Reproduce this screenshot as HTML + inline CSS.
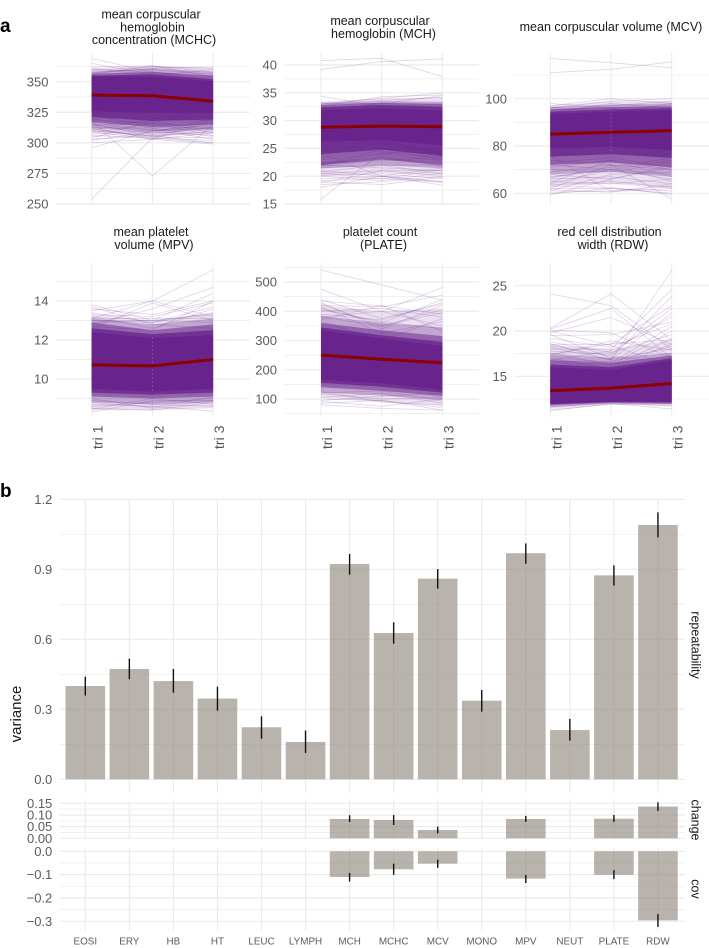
<!DOCTYPE html>
<html lang="en">
<head>
<meta charset="utf-8">
<title>Blood trait trajectories and variance components</title>
<style>
html,body{margin:0;padding:0;background:#fff;}
body{width:709px;height:948px;overflow:hidden;}
svg{display:block;font-family:"Liberation Sans",Arial,sans-serif;}
.title{font-size:12.5px;fill:#1a1a1a;text-anchor:middle;}
.tick{font-size:13px;fill:#5c5c5c;text-anchor:end;}
.tri{font-size:14.2px;fill:#555;text-anchor:end;}
.xcat{font-size:9.9px;fill:#5c5c5c;text-anchor:middle;}
.strip{font-size:12.5px;fill:#1a1a1a;text-anchor:middle;}
.tag{font-size:19px;font-weight:bold;fill:#000;}
</style>
</head>
<body>
<svg id="chart" xmlns="http://www.w3.org/2000/svg" width="709" height="948" viewBox="0 0 709 948">
  <rect width="709" height="948" fill="#fff"/>
  <g id="panels-a"></g>
  <g id="panels-b"></g>

  <text class="tag" x="0" y="32">a</text>
  <text class="tag" x="0" y="497">b</text>

  <g>
    <text class="title" x="151" y="18.5">mean corpuscular</text>
    <text class="title" x="152.5" y="31.5">hemoglobin</text>
    <text class="title" x="154" y="44">concentration (MCHC)</text>
  </g>
  <g>
    <text class="title" x="380" y="25">mean corpuscular</text>
    <text class="title" x="383.5" y="38">hemoglobin (MCH)</text>
  </g>
  <text class="title" x="611" y="31">mean corpuscular volume (MCV)</text>
  <g>
    <text class="title" x="151" y="236">mean platelet</text>
    <text class="title" x="154" y="249">volume (MPV)</text>
  </g>
  <g>
    <text class="title" x="380" y="236">platelet count</text>
    <text class="title" x="383.5" y="249">(PLATE)</text>
  </g>
  <g>
    <text class="title" x="609.5" y="236">red cell distribution</text>
    <text class="title" x="613" y="249">width (RDW)</text>
  </g>

  <text transform="translate(21,714) rotate(-90)" style="font-size:15px;fill:#1a1a1a;text-anchor:middle">variance</text>
  <text class="strip" transform="translate(691.5,645) rotate(90)">repeatability</text>
  <text class="strip" transform="translate(691.5,820) rotate(90)">change</text>
  <text class="strip" transform="translate(691.5,889) rotate(90)">cov</text>
</svg>

<script>
// ---------- Panel a data ----------
const timepoints = ['tri 1', 'tri 2', 'tri 3'];

const mchcMajor = [250, 275, 300, 325, 350];
const mchcMinor = [262.5, 287.5, 312.5, 337.5, 362.5];
const mchcMean = [339, 338.5, 334];
const mchcBands = [
  [309, 305, 308, 361, 363, 361],
  [313, 309, 311, 358, 361, 358],
  [317, 313, 315, 356.5, 358, 355],
  [321, 318, 319, 355, 356, 352],
  [325.9, 324.5, 324.5, 354.4, 354, 350.3]
];
const mchcLines = [
  [369,358,350],[365,356,348],[362,363,354],[359,362,361],[357,361,362],[361,355,360],[358,360,356],[356,363,358],[360,358,352],
  [296,310,315],[254,304,320],[318,273,315],[300,303,299],[303,306,300],[306,304,302],[309,303,308],[311,305,304],[313,308,311],
  [305,310,312],[315,307,313],[308,316,306],[312,312,305],[316,305,310],[318,310,314],[314,318,308],[320,312,316],[317,308,320],
  [304,318,322],[322,314,311],[310,320,318],[319,316,312],[313,303,318],[307,311,303],[302,309,306],[310,306,309],[312,304,300]
];

const mchMajor = [15, 20, 25, 30, 35, 40];
const mchMinor = [17.5, 22.5, 27.5, 32.5, 37.5];
const mchMean = [28.8, 29, 28.9];
const mchBands = [
  [20, 20.5, 20.2, 33.4, 34, 34.2],
  [21.4, 22, 21.4, 33, 33.5, 33.4],
  [22, 23, 22, 32.8, 33.2, 33],
  [24, 24.8, 23.6, 32.4, 32.8, 32.5],
  [26.2, 26.5, 25.6, 31.9, 32.2, 31.8]
];
const mchLines = [
  [40.8,41.2,37.9],[39.2,40.6,41.1],[34.4,32.5,33],[33,34,35],[32.6,34.3,34.6],[33,33.6,34.2],[33.2,33,34.5],
  [15.9,24.2,23.5],[24,20,18.4],[18.5,19,20],[19,18.5,19.8],[19.5,20,19],[18.8,21,21],[20,19.2,20.6],[20.5,21,20],
  [21,20,21.5],[20.8,22,20.4],[21.5,22,22],[22,21.5,21],[21.8,23,22.5],[22.3,23.5,21.8],[23,24,22.8],[22.5,22.8,23.5],
  [23.4,24.5,23.2],[24,25,23],[24.4,26,24],[24.8,25.8,24.6],[25.2,26.4,24.2],[23.8,24.8,25],[22,24.8,24],[21.9,24.2,24.3],[22.2,23.2,23],
  [18,20,19],[19.2,19.6,18.9],[20.2,20.4,19.6],[20.6,19.5,21.2]
];

const mcvMajor = [60, 80, 100];
const mcvMinor = [70, 90, 110];
const mcvMean = [85, 85.8, 86.5];
const mcvSpecks = [78, 95];
const mcvBands = [
  [63, 64, 62, 97, 99, 99],
  [68, 69, 67, 96.5, 97.5, 98],
  [72, 73, 71, 95.5, 96.5, 96.8],
  [75.5, 76.5, 75, 94.5, 95.5, 96],
  [79, 79.7, 78.3, 93.5, 94.5, 95.2]
];
const mcvLines = [
  [117,115.2,113.1],[111,112.4,115.6],[98,96,97],[97,100,98],[96,99,100],[95,97,99],[96.5,94,98],[94,98,96],
  [59.3,66,72],[76,60.7,62],[62,72,57.6],[64,70,66],[60.5,61,63],[62,62,61],[63.5,65,62.5],[65,64,66],[66,67,64],
  [61,68,69],[67,70,68],[68,66,71],[69,72,65],[64.5,74,70],[70,69,73],[71,74,67],[72,70,74],[73,75,71],[74,72,70],[66.5,71,75],
  [59.8,62,60],[61.5,60.5,64],[63,62.5,59.5]
];

const mpvMajor = [10, 12, 14];
const mpvMinor = [9, 11, 13, 15];
const mpvMean = [10.73, 10.67, 11];
const mpvSpecks = [9.4, 12.2];
const mpvBands = [
  [8.4, 8.4, 8.5, 13.3, 13, 13.4],
  [8.8, 8.7, 8.8, 13.1, 12.8, 13.1],
  [9.1, 9, 9.1, 12.9, 12.5, 12.8],
  [9.3, 9.2, 9.3, 12.6, 12.3, 12.5],
  [9.5, 9.35, 9.5, 12.4, 12.1, 12.25]
];
const mpvLines = [
  [13.1,14,15.6],[12.8,13.6,14.7],[13,13,14.4],[13.8,13,12.9],[13.7,12.8,12.6],[13.5,14,13.2],[13.6,13.3,14],[13.3,13.2,13.9],
  [13,12.9,13.7],[12.9,13,13.3],[13.2,12.6,13.6],[13.1,13.1,13.1],[12.7,12.5,14],[13.4,12.9,13.4],[12.6,13.9,13],
  [8.3,8.9,8.9],[8.5,8.4,8.8],[8.7,8.6,8.35],[8.6,8.8,9],[8.8,8.55,9.1],[8.45,9,8.7],[9,8.5,8.9],[8.9,8.7,8.6]
];

const plateMajor = [100, 200, 300, 400, 500];
const plateMinor = [50, 150, 250, 350, 450, 550];
const plateMean = [250, 236, 224];
const plateBands = [
  [105, 90, 78, 420, 400, 410],
  [122, 112, 96, 385, 360, 345],
  [140, 128, 110, 360, 335, 315],
  [155, 142, 122, 345, 318, 295],
  [165, 154, 131, 336, 307, 281]
];
const plateLines = [
  [541,490,438],[475,400,350],[380,400,481],[420,415,455],[440,375,425],[435,418,390],[410,360,440],[430,340,420],[400,410,380],
  [390,370,430],[425,350,405],[415,325,365],[405,365,340],[380,350,395],[370,420,330],[365,300,375],
  [80,68,62],[85,95,62],[92,75,100],[100,95,70],[105,120,85],[118,100,105],[125,90,78],[95,110,120],[120,128,92]
];

const rdwMajor = [15, 20, 25];
const rdwMinor = [12.5, 17.5, 22.5];
const rdwMean = [13.4, 13.7, 14.2];
const rdwBands = [
  [11.4, 11.9, 11.7, 18.5, 18, 19],
  [11.6, 12, 11.9, 17.4, 17, 17.6],
  [11.8, 12.1, 12, 16.8, 16.5, 17.3],
  [11.9, 12.15, 12.1, 16.3, 16, 17],
  [11.95, 12.2, 12.2, 16, 15.7, 16.8]
];
const rdwLines = [
  [24.1,22.8,18],[20.3,24.1,19],[20.2,22.5,17],[19.8,21.5,18.5],[20.1,19.8,17],[19.5,19.6,21],[18.6,16.8,26.7],[18,18,24.6],
  [17.5,17,23.8],[18.5,18.5,22.8],[17.8,17.4,22.5],[18.2,16.8,22],[16.8,17.8,21.6],[19.2,18.2,20.8],[17.2,16.5,20.5],
  [17.6,16.2,20],[18.8,17.6,19.6],[17.4,18.6,19],[16.6,16,19.2],[17,15.8,18.6],[19.6,17,18],[16.9,16.6,18.3],
  [18.4,17.2,16.5],[17.3,18.9,17.9],[20,18.4,16.2],[11.2,12,11.4],[11.6,12.1,11.7],[11.3,11.9,12]
];

// ---------- Panel b data ----------
const traits = ['EOSI','ERY','HB','HT','LEUC','LYMPH','MCH','MCHC','MCV','MONO','MPV','NEUT','PLATE','RDW'];
const repeatabilityValues = [0.40,0.473,0.421,0.346,0.223,0.16,0.923,0.627,0.86,0.337,0.969,0.211,0.874,1.09];
const repeatabilityLow = [0.359,0.429,0.371,0.294,0.174,0.113,0.877,0.581,0.817,0.29,0.924,0.166,0.83,1.037];
const repeatabilityHigh = [0.44,0.517,0.473,0.397,0.27,0.209,0.966,0.673,0.901,0.383,1.011,0.259,0.917,1.144];
const repeatabilityTicks = [0, 0.3, 0.6, 0.9, 1.2];
const repeatabilityMinor = [0.15, 0.45, 0.75, 1.05];
const repeatabilityLabels = ['0.0','0.3','0.6','0.9','1.2'];

const changeTraits = ['MCH','MCHC','MCV','MPV','PLATE','RDW'];
const changeValues = [0.083,0.079,0.036,0.083,0.084,0.136];
const changeLow = [0.07,0.057,0.021,0.07,0.07,0.117];
const changeHigh = [0.099,0.10,0.05,0.096,0.10,0.154];
const changeTicks = [0, 0.05, 0.10, 0.15];
const changeMinor = [0.025, 0.075, 0.125];
const changeLabels = ['0.00','0.05','0.10','0.15'];

const covValues = [-0.11,-0.077,-0.053,-0.117,-0.101,-0.296];
const covLow = [-0.13,-0.101,-0.071,-0.136,-0.119,-0.324];
const covHigh = [-0.093,-0.053,-0.036,-0.101,-0.081,-0.269];
const covTicks = [-0.3, -0.2, -0.1, 0];
const covMinor = [-0.25, -0.15, -0.05];
const covLabels = ['\u22120.3','\u22120.2','\u22120.1','0.0'];

// ---------- Helpers ----------
const NS = 'http://www.w3.org/2000/svg';
const GRID = '#ebebeb';
const PURPLE = '#68248c';
const bandOpacity = [0.14, 0.3, 0.52, 0.78, 1];

function make(parent, tag) {
  const el = document.createElementNS(NS, tag);
  parent.appendChild(el);
  return el;
}
function linear(d0, d1, r0, r1) {
  return function (v) { return r0 + (v - d0) * (r1 - r0) / (d1 - d0); };
}
function hLine(parent, x0, x1, y, w) {
  const el = make(parent, 'line');
  el.setAttribute('x1', x0);
  el.setAttribute('x2', x1);
  el.setAttribute('y1', y);
  el.setAttribute('y2', y);
  el.setAttribute('stroke', GRID);
  el.setAttribute('stroke-width', w);
  return el;
}
function vLine(parent, x, y0, y1, w) {
  const el = make(parent, 'line');
  el.setAttribute('x1', x);
  el.setAttribute('x2', x);
  el.setAttribute('y1', y0);
  el.setAttribute('y2', y1);
  el.setAttribute('stroke', GRID);
  el.setAttribute('stroke-width', w);
  return el;
}

// ---------- Panel a ----------
function drawTrajectory(cfg) {
  const root = document.getElementById('panels-a');
  const g = make(root, 'g');
  
  
  const sy = linear(cfg.d0, cfg.d1, cfg.r0, cfg.r1);
  const sx = function (i) { return cfg.xs + i * cfg.xstep; };

  cfg.minor.forEach(function (v) {
    const el = hLine(g, cfg.left, cfg.right, sy(v), 0.7);
    
    
  });
  cfg.major.forEach(function (v) {
    const el = hLine(g, cfg.left, cfg.right, sy(v), 1.2);
    
    
    const t = make(g, 'text');
    
    
    t.setAttribute('class', 'tick');
    t.setAttribute('x', cfg.labelX);
    t.setAttribute('y', sy(v) + 4.6);
    t.textContent = String(v);
  });
  timepoints.forEach(function (lab, i) {
    const el = vLine(g, sx(i), cfg.top, cfg.bottom, 1);
    
    
    if (cfg.showX) {
      const t = make(g, 'text');
      
      
      t.setAttribute('class', 'tri');
      t.setAttribute('transform', 'translate(' + (sx(i) + 11) + ',425.5) rotate(-90)');
      t.textContent = lab;
    }
  });

  cfg.bands.forEach(function (b, k) {
    const el = make(g, 'polygon');
    
    
    const pts = [];
    for (let i = 0; i < 3; i++) pts.push(sx(i) + ',' + sy(b[i]));
    for (let i = 2; i >= 0; i--) pts.push(sx(i) + ',' + sy(b[i + 3]));
    el.setAttribute('points', pts.join(' '));
    el.setAttribute('fill', PURPLE);
    el.setAttribute('fill-opacity', bandOpacity[k]);
  });

  cfg.lines.forEach(function (vals) {
    const el = make(g, 'polyline');
    
    
    el.setAttribute('points', vals.map(function (v, i) { return sx(i) + ',' + sy(v); }).join(' '));
    el.setAttribute('fill', 'none');
    el.setAttribute('stroke', PURPLE);
    el.setAttribute('stroke-opacity', '0.2');
    el.setAttribute('stroke-width', '0.8');
  });

  if (cfg.specks) {
    const sp = make(g, 'line');
    
    
    sp.setAttribute('x1', sx(1));
    sp.setAttribute('x2', sx(1));
    sp.setAttribute('y1', sy(cfg.specks[0]));
    sp.setAttribute('y2', sy(cfg.specks[1]));
    sp.setAttribute('stroke', '#fff');
    sp.setAttribute('stroke-opacity', '0.4');
    sp.setAttribute('stroke-width', '1');
    sp.setAttribute('stroke-dasharray', '1 3');
  }

  const m = make(g, 'polyline');
  
  
  m.setAttribute('points', cfg.mean.map(function (v, i) { return sx(i) + ',' + sy(v); }).join(' '));
  m.setAttribute('fill', 'none');
  m.setAttribute('stroke', '#8b0000');
  m.setAttribute('stroke-width', '3');
}

const commonA = {xstep: 60.7};
drawTrajectory(Object.assign({}, commonA, {name:'mchc', d0:250, d1:350, r0:204, r1:81.7, xs:91.7, left:56, right:250, labelX:48.5, top:52, bottom:205, major:mchcMajor, minor:mchcMinor, mean:mchcMean, bands:mchcBands, lines:mchcLines, showX:false}));
drawTrajectory(Object.assign({}, commonA, {name:'mch', d0:15, d1:40, r0:204, r1:65, xs:321, left:285, right:479, labelX:277, top:52, bottom:205, major:mchMajor, minor:mchMinor, mean:mchMean, bands:mchBands, lines:mchLines, showX:false}));
drawTrajectory(Object.assign({}, commonA, {name:'mcv', d0:60, d1:100, r0:193.3, r1:98.7, xs:550.3, left:514, right:709, labelX:507, top:52, bottom:205, major:mcvMajor, minor:mcvMinor, mean:mcvMean, bands:mcvBands, lines:mcvLines, specks:mcvSpecks, showX:false}));
drawTrajectory(Object.assign({}, commonA, {name:'mpv', d0:10, d1:14, r0:379, r1:301, xs:91.7, left:56, right:250, labelX:48.5, top:263, bottom:417, major:mpvMajor, minor:mpvMinor, mean:mpvMean, bands:mpvBands, lines:mpvLines, specks:mpvSpecks, showX:true}));
drawTrajectory(Object.assign({}, commonA, {name:'plate', d0:100, d1:500, r0:399, r1:282, xs:321, left:285, right:479, labelX:277, top:263, bottom:417, major:plateMajor, minor:plateMinor, mean:plateMean, bands:plateBands, lines:plateLines, showX:true}));
drawTrajectory(Object.assign({}, commonA, {name:'rdw', d0:15, d1:25, r0:376.3, r1:285.7, xs:550.3, left:514, right:709, labelX:507, top:263, bottom:417, major:rdwMajor, minor:rdwMinor, mean:rdwMean, bands:rdwBands, lines:rdwLines, showX:true}));

// ---------- Panel b ----------
const bx = function (i) { return 85.3 + i * 44.05; };

function drawFacet(cfg) {
  const root = document.getElementById('panels-b');
  const g = make(root, 'g');
  
  
  const sy = linear(cfg.d0, cfg.d1, cfg.r0, cfg.r1);

  cfg.minor.forEach(function (v) {
    const el = hLine(g, 59.3, 685, sy(v), 0.7);
    
    
  });
  cfg.ticks.forEach(function (v, i) {
    const el = hLine(g, 59.3, 685, sy(v), 1.2);
    
    
    const t = make(g, 'text');
    
    
    t.setAttribute('class', 'tick');
    t.setAttribute('x', 52.3);
    t.setAttribute('y', sy(v) + 4.6);
    t.textContent = cfg.labels[i];
  });
  traits.forEach(function (c, i) {
    const el = vLine(g, bx(i), cfg.top, cfg.bottom, 1.2);
    
    
  });
  cfg.cats.forEach(function (c, k) {
    const i = traits.indexOf(c);
    const y0 = sy(0);
    const y1 = sy(cfg.values[k]);
    const bar = make(g, 'rect');
    
    
    bar.setAttribute('x', bx(i) - 19.8);
    bar.setAttribute('width', 39.6);
    bar.setAttribute('y', Math.min(y0, y1));
    bar.setAttribute('height', Math.abs(y1 - y0));
    bar.setAttribute('fill', '#8c847a');
    bar.setAttribute('fill-opacity', '0.62');
    const err = make(g, 'line');
    
    
    err.setAttribute('x1', bx(i));
    err.setAttribute('x2', bx(i));
    err.setAttribute('y1', sy(cfg.low[k]));
    err.setAttribute('y2', sy(cfg.high[k]));
    err.setAttribute('stroke', '#111');
    err.setAttribute('stroke-width', '1.4');
  });
}

drawFacet({name:'repeatability', d0:0, d1:1.2, r0:779.3, r1:499.3, top:499, bottom:792.7, ticks:repeatabilityTicks, minor:repeatabilityMinor, labels:repeatabilityLabels, cats:traits, values:repeatabilityValues, low:repeatabilityLow, high:repeatabilityHigh});
drawFacet({name:'change', d0:0, d1:0.15, r0:838.3, r1:803.3, top:800.7, bottom:839.3, ticks:changeTicks, minor:changeMinor, labels:changeLabels, cats:changeTraits, values:changeValues, low:changeLow, high:changeHigh});
drawFacet({name:'cov', d0:0, d1:-0.3, r0:851.3, r1:921.3, top:848.3, bottom:930, ticks:covTicks, minor:covMinor, labels:covLabels, cats:changeTraits, values:covValues, low:covLow, high:covHigh});

traits.forEach(function (c, i) {
  const t = make(document.getElementById('panels-b'), 'text');
  
  
  t.setAttribute('class', 'xcat');
  t.setAttribute('x', bx(i));
  t.setAttribute('y', 944.5);
  t.textContent = c;
});
</script>
</body>
</html>
